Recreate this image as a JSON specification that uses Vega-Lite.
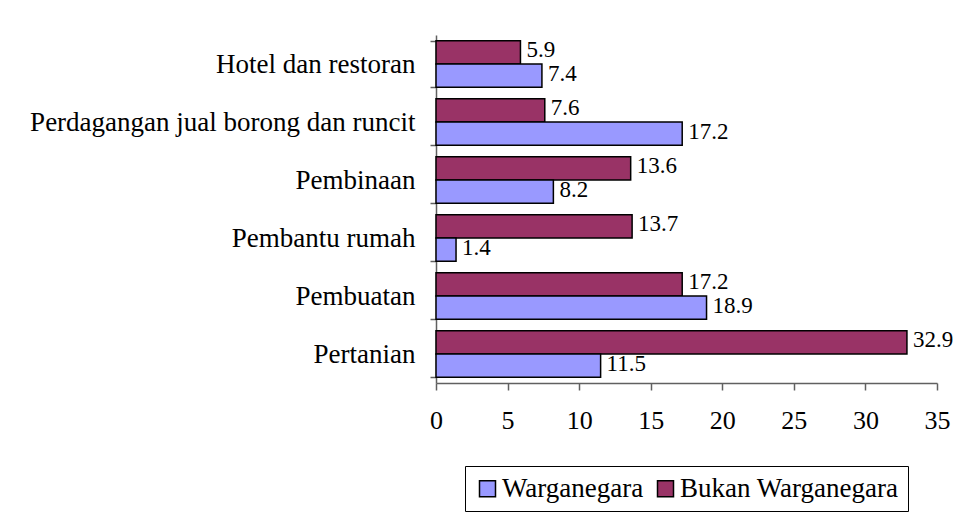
{
  "$schema": "https://vega.github.io/schema/vega-lite/v6.json",
  "autosize": {"type": "none"},
  "width": 501,
  "height": 348,
  "padding": {"left": 436, "top": 35, "right": 22, "bottom": 129},
  "background": "white",
  "config": {
    "view": {"stroke": null},
    "font": "Liberation Serif",
    "axis": {"labelFont": "Liberation Serif", "labelColor": "black", "domainColor": "#606060", "tickColor": "#606060", "grid": false, "title": null, "labelLimit": 0},
    "legend": {"labelFont": "Liberation Serif", "labelLimit": 0},
    "text": {"font": "Liberation Serif"}
  },
  "data": {
    "values": [
      {"kategori": "Hotel dan restoran", "siri": "Bukan Warganegara", "nilai": 5.9},
      {"kategori": "Hotel dan restoran", "siri": "Warganegara", "nilai": 7.4},
      {"kategori": "Perdagangan jual borong dan runcit", "siri": "Bukan Warganegara", "nilai": 7.6},
      {"kategori": "Perdagangan jual borong dan runcit", "siri": "Warganegara", "nilai": 17.2},
      {"kategori": "Pembinaan", "siri": "Bukan Warganegara", "nilai": 13.6},
      {"kategori": "Pembinaan", "siri": "Warganegara", "nilai": 8.2},
      {"kategori": "Pembantu rumah", "siri": "Bukan Warganegara", "nilai": 13.7},
      {"kategori": "Pembantu rumah", "siri": "Warganegara", "nilai": 1.4},
      {"kategori": "Pembuatan", "siri": "Bukan Warganegara", "nilai": 17.2},
      {"kategori": "Pembuatan", "siri": "Warganegara", "nilai": 18.9},
      {"kategori": "Pertanian", "siri": "Bukan Warganegara", "nilai": 32.9},
      {"kategori": "Pertanian", "siri": "Warganegara", "nilai": 11.5}
    ]
  },
  "encoding": {
    "y": {
      "field": "kategori",
      "type": "nominal",
      "sort": ["Hotel dan restoran", "Perdagangan jual borong dan runcit", "Pembinaan", "Pembantu rumah", "Pembuatan", "Pertanian"],
      "scale": {"paddingInner": 0.2, "paddingOuter": 0.1},
      "axis": {"tickBand": "extent", "tickSize": 6, "labelPadding": 15, "labelFontSize": 27, "domainWidth": 1.5, "tickWidth": 1.5}
    },
    "yOffset": {
      "field": "siri",
      "type": "nominal",
      "scale": {"domain": ["Bukan Warganegara", "Warganegara"], "paddingInner": 0, "paddingOuter": 0}
    },
    "x": {
      "field": "nilai",
      "type": "quantitative",
      "scale": {"domain": [0, 35], "nice": false},
      "axis": {"values": [0, 5, 10, 15, 20, 25, 30, 35], "tickSize": 7, "labelPadding": 17, "labelFontSize": 26, "domainWidth": 1.5, "tickWidth": 1.5, "labelFlush": false}
    }
  },
  "layer": [
    {
      "mark": {"type": "bar", "stroke": "black", "strokeWidth": 1.5},
      "encoding": {
        "color": {
          "field": "siri",
          "type": "nominal",
          "scale": {"domain": ["Warganegara", "Bukan Warganegara"], "range": ["#9999FF", "#993366"]},
          "legend": {
            "title": null,
            "orient": "none",
            "direction": "horizontal",
            "legendX": 29,
            "legendY": 431,
            "strokeColor": "black",
            "padding": 9,
            "labelFontSize": 27,
            "labelColor": "black",
            "symbolType": "square",
            "symbolSize": 256,
            "symbolStrokeColor": "black",
            "symbolStrokeWidth": 1.5,
            "labelOffset": 1,
            "columnPadding": 8
          }
        }
      }
    },
    {
      "mark": {"type": "text", "align": "left", "baseline": "middle", "dx": 6, "dy": -2, "fontSize": 23, "font": "Liberation Serif", "color": "black"},
      "encoding": {
        "text": {"field": "nilai", "type": "quantitative", "format": ".1f"}
      }
    }
  ]
}
